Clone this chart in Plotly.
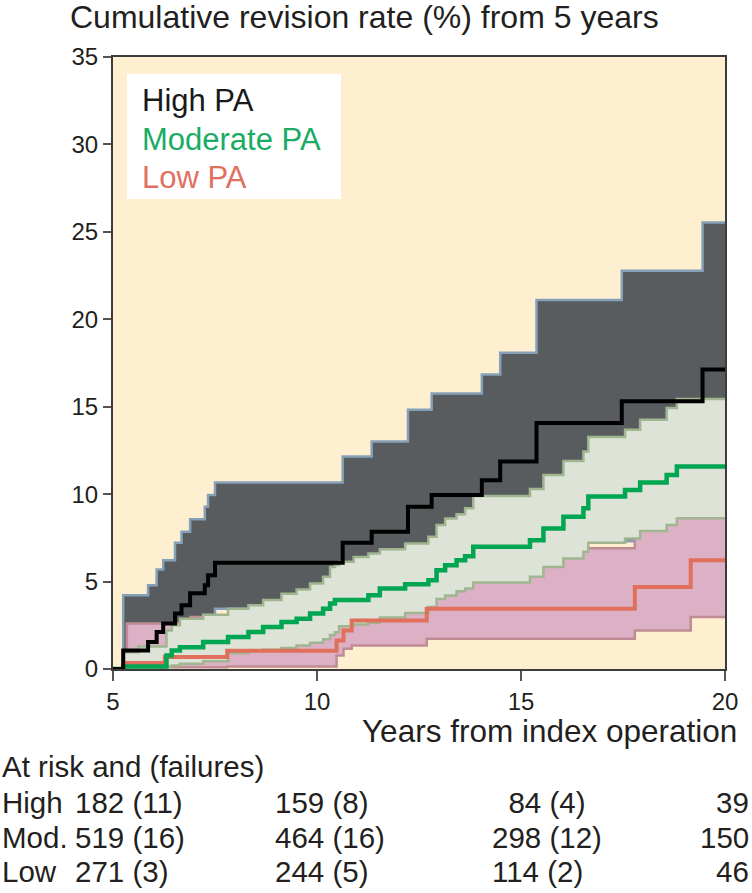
import plotly.graph_objects as go

# ---------------- data ----------------
x_ticks = [5, 10, 15, 20]
y_ticks = [0, 5, 10, 15, 20, 25, 30, 35]

# High PA: step times, estimate and 95% CI (cumulative revision %)
high_t = [5.0, 5.25, 5.86, 6.07, 6.23, 6.52, 6.68, 6.89, 7.25, 7.33, 7.5,
          10.63, 11.34, 12.23, 12.81, 14.04, 14.49, 15.38, 17.47, 19.45, 20.0]
high_est = [0, 1.06, 1.54, 2.11, 2.6, 3.18, 3.64, 4.33, 4.79, 5.36, 6.07,
            7.22, 7.85, 9.28, 9.95, 10.8, 11.86, 14.07, 15.31, 17.13, 17.13]
high_upper = [0, 4.22, 4.79, 5.69, 6.22, 7.22, 7.85, 8.56, 9.28, 9.95, 10.66,
              12.15, 13.01, 14.83, 15.75, 16.84, 18.08, 21.1, 22.77, 25.54, 25.54]
high_lower = [0, 0.2, 0.4, 0.6, 0.8, 1.1, 1.4, 1.8, 2.2, 2.6, 3.45,
              3.9, 4.3, 4.8, 5.1, 5.4, 5.7, 7.25, 7.3, 8.3, 8.3]

# Moderate PA
mod_t = [5.0, 5.25, 5.62, 6.31, 6.44, 6.64, 7.21, 7.82, 8.32, 8.68, 9.13, 9.5,
         9.83, 10.15, 10.32, 10.44, 10.54, 10.9, 11.26, 11.54, 12.16, 12.73,
         12.93, 13.14, 13.42, 13.63, 13.83, 15.22, 15.55, 16.04, 16.53, 16.65,
         17.55, 17.92, 18.57, 18.82, 20.0]
mod_est = [0, 0.15, 0.15, 0.77, 1.06, 1.25, 1.54, 1.83, 2.11, 2.4, 2.69, 2.88,
           3.17, 3.45, 3.74, 3.95, 3.95, 3.95, 4.22, 4.6, 4.85, 5.08,
           5.65, 5.94, 6.22, 6.45, 6.99, 7.37, 8.04, 8.71, 9.19, 9.86,
           10.24, 10.66, 11.1, 11.58, 11.58]
mod_upper = [0, 0.96, 1.29, 2.2, 2.5, 2.88, 3.1, 3.45, 3.64, 3.95, 4.3, 4.55,
             4.89, 5.27, 5.84, 5.95, 6.13, 6.41, 6.6, 6.85, 7.18, 7.56,
             8.23, 8.6, 8.85, 9.19, 9.9, 10.3, 11.1, 11.9, 12.44, 13.27,
             13.68, 14.26, 14.93, 15.44, 15.44]
mod_lower = [0, 0, 0, 0.15, 0.2, 0.3, 0.45, 0.9, 1.0, 1.1, 1.2, 1.35,
             1.5, 1.7, 1.95, 2.1, 2.45, 2.55, 2.65, 2.95, 3.2, 3.55,
             4.0, 4.2, 4.45, 4.6, 4.95, 5.27, 5.84, 6.32, 6.7, 7.22,
             7.47, 7.89, 8.23, 8.62, 8.62]

# Low PA
low_t = [5.0, 5.34, 6.27, 6.9, 7.8, 10.48, 10.65, 10.85, 12.69, 17.79, 19.16, 20.0]
low_est = [0, 0.35, 0.68, 0.68, 1.05, 1.63, 2.2, 2.78, 3.45, 4.69, 6.22, 6.22]
low_upper = [0, 2.6, 2.6, 2.97, 2.97, 4.0, 4.6, 5.3, 6.9, 9.0, 11.5, 11.5]
low_lower = [0, 0.05, 0.1, 0.1, 0.15, 0.77, 1.16, 1.35, 1.73, 2.2, 2.97, 2.97]

# Numbers at risk and (failures)
risk_labels = ["High", "Mod.", "Low"]
high_risk = [182, 159, 84, 39]
high_fail = [11, 8, 4]
mod_risk = [519, 464, 298, 150]
mod_fail = [16, 16, 12]
low_risk = [271, 244, 114, 46]
low_fail = [3, 5, 2]

legend_names = ["High PA", "Moderate PA", "Low PA"]

# ---------------- styling ----------------
FONT = "Liberation Sans, Arial, Helvetica, sans-serif"
TXT = "#231f20"
W, H = 752, 893
L, R, T, B = 113, 725, 57, 669   # plot area in pixels


def px_x(px):
    return (px - L) / (R - L)


def px_y(py):
    return (B - py) / (B - T)


fig = go.Figure()


def band(t, lo, hi, edge, fill):
    fig.add_trace(go.Scatter(x=t, y=lo, mode="lines",
                             line=dict(color=edge, width=2.5, shape="hv"),
                             hoverinfo="skip", showlegend=False))
    fig.add_trace(go.Scatter(x=t, y=hi, mode="lines", fill="tonexty",
                             fillcolor=fill,
                             line=dict(color=edge, width=2.5, shape="hv"),
                             hoverinfo="skip", showlegend=False))


band(high_t, high_lower, high_upper, "#86a0b8", "#595c5e")
band(low_t, low_lower, low_upper, "#bf8c95", "#dcb1c6")
band(mod_t, mod_lower, mod_upper, "#9fb690", "#dde3d7")

fig.add_trace(go.Scatter(x=low_t, y=low_est, mode="lines",
                         line=dict(color="#e06f5c", width=4, shape="hv"),
                         name=legend_names[2], showlegend=False))
fig.add_trace(go.Scatter(x=mod_t, y=mod_est, mode="lines",
                         line=dict(color="#00a651", width=4.5, shape="hv"),
                         name=legend_names[1], showlegend=False))
fig.add_trace(go.Scatter(x=high_t, y=high_est, mode="lines",
                         line=dict(color="#000000", width=4, shape="hv"),
                         name=legend_names[0], showlegend=False))

fig.update_layout(
    width=W, height=H,
    margin=dict(l=L, r=W - R, t=T, b=H - B, pad=0),
    paper_bgcolor="white", plot_bgcolor="#feefd1",
    font=dict(family=FONT, color=TXT),
    showlegend=False,
)
fig.update_xaxes(range=[5, 20], tickvals=x_ticks, ticks="outside", ticklen=10,
                 tickwidth=1.5, tickcolor="#555555", showline=True,
                 linecolor="#3d3b3b", linewidth=2, mirror=True,
                 showgrid=False, zeroline=False,
                 tickfont=dict(size=24, color=TXT, family=FONT))
fig.update_yaxes(range=[0, 35], tickvals=y_ticks, ticks="outside", ticklen=8,
                 tickwidth=1.5, tickcolor="#555555", showline=True,
                 linecolor="#3d3b3b", linewidth=2, mirror=True,
                 showgrid=False, zeroline=False,
                 tickfont=dict(size=24, color=TXT, family=FONT))

ann = []


def text(s, xpx, ypx, size, anchor="left", color=TXT):
    ann.append(dict(text=s, x=px_x(xpx), y=px_y(ypx), xref="paper", yref="paper",
                    xanchor=anchor, yanchor="middle", showarrow=False,
                    borderpad=0, borderwidth=0,
                    font=dict(size=size, color=color, family=FONT)))


# title and axis title
text("Cumulative revision rate (%) from 5 years", 70, 17, 32)
text("Years from index operation", 737, 731, 31.5, anchor="right")

# legend box
fig.add_shape(type="rect", xref="paper", yref="paper",
              x0=px_x(127), x1=px_x(341), y0=px_y(199), y1=px_y(74),
              fillcolor="white", line=dict(width=0), layer="above")
legend_colors = ["#1a1a1a", "#1aab64", "#e0705f"]
for i, (nm, c) in enumerate(zip(legend_names, legend_colors)):
    text(nm, 142, 101 + 38 * i, 31, color=c)

# risk table
FS = "\u2007"


def pad(n):
    s = str(n)
    return FS * (3 - len(s)) + s


text("At risk and (failures)", 2, 767, 29.5)
rows = [(high_risk, high_fail), (mod_risk, mod_fail), (low_risk, low_fail)]
row_y = [802, 837, 871]
col_x = [75, 275, 492]
for lab, (risk, fail), yy in zip(risk_labels, rows, row_y):
    text(lab, 2, yy, 29.5)
    for j in range(3):
        text(f"{pad(risk[j])} ({fail[j]})", col_x[j], yy, 29.5)
    text(str(risk[3]), 749, yy, 29.5, anchor="right")

fig.update_layout(annotations=ann)

fig.write_html("out.html")
